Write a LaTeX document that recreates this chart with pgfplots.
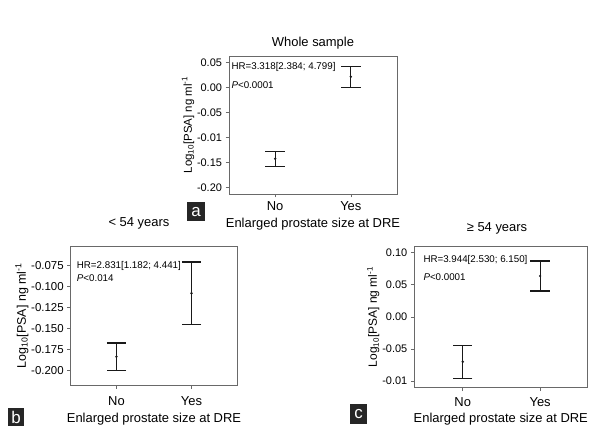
\documentclass[border=0pt]{standalone}
\usepackage{fontspec}
\setmainfont{Liberation Sans}
\usepackage{pgfplots}
\pgfplotsset{compat=1.18}
\definecolor{framegray}{RGB}{105,105,105}
\pgfplotsset{
  panel/.style={
    scale only axis,
    anchor=south west,
    xmin=-0.61, xmax=1.61,
    xtick={0,1}, xticklabels={No,Yes},
    xtick pos=bottom, ytick pos=left,
    tick align=outside,
    major tick length=3.5bp,
    axis line style={framegray, line width=0.9pt},
    every tick/.style={framegray, line width=0.6pt},
    xticklabel style={font=\fontsize{13}{13}\selectfont, yshift=-1bp},
    label style={font=\fontsize{13}{13}\selectfont},
    ylabel={Log\textsubscript{10}[PSA] ng ml\textsuperscript{-1}},
    xlabel={Enlarged prostate size at DRE},
    ylabel style={yshift=-4bp},
    clip=false,
  },
  ebar/.style={
    black!90, line width=1.2pt, mark=*, mark size=0.5pt, only marks,
    error bars/.cd, y dir=both, y explicit,
    error bar style={line width=1.2pt, black!90},
    error mark options={rotate=90, mark size=9.7bp, line width=1.2pt, black!90},
  },
}
\newcommand{\hrtext}{\fontsize{9.8}{10}\selectfont}
\begin{document}
\begin{tikzpicture}
\useasboundingbox (0,0) rectangle (595bp,426bp);

% Panel a
\begin{axis}[panel, at={(229bp,232bp)}, width=168bp, height=138bp,
  ymin=-0.2126, ymax=0.0634,
  yticklabel style={font=\fontsize{11}{11}\selectfont},
  ylabel style={font=\fontsize{11.5}{11.5}\selectfont, yshift=0bp},
  ytick={-0.2,-0.15,-0.1,-0.05,0,0.05},
  yticklabels={-0.20,-0.15,-0.01,-0.05,0.00,0.05}]
\addplot+[ebar] coordinates {
  (0,-0.142) += (0,0.014) -= (0,0.015)
  (1,0.022) += (0,0.0208) -= (0,0.0212)
};
\node[anchor=west, inner sep=0, font=\hrtext] at (rel axis cs:0.014,0.92) {HR=3.318[2.384; 4.799]};
\node[anchor=west, inner sep=0, font=\hrtext] at (rel axis cs:0.014,0.786) {\textit{P}<0.0001};
\end{axis}

% Panel b
\begin{axis}[panel, at={(70.7bp,41bp)}, width=166.6bp, height=138.7bp,
  ymin=-0.2176, ymax=-0.0518,
  yticklabel style={font=\fontsize{11.5}{11.5}\selectfont},
  ylabel style={font=\fontsize{12.5}{12.5}\selectfont},
  xticklabel style={yshift=-4bp},
  ytick={-0.2,-0.175,-0.15,-0.125,-0.1,-0.075},
  yticklabels={-0.200,-0.175,-0.150,-0.125,-0.100,-0.075}]
\addplot+[ebar] coordinates {
  (0,-0.1837) += (0,0.0163) -= (0,0.0168)
  (1,-0.108) += (0,0.0374) -= (0,0.0375)
};
\node[anchor=west, inner sep=0, font=\hrtext] at (rel axis cs:0.036,0.86) {HR=2.831[1.182; 4.441]};
\node[anchor=west, inner sep=0, font=\hrtext] at (rel axis cs:0.036,0.77) {\textit{P}<0.014};
\end{axis}

% Panel c
\begin{axis}[panel, at={(414.3bp,38.3bp)}, width=173bp, height=141.4bp,
  xmin=-0.626, xmax=1.61,
  ymin=-0.1104, ymax=0.11,
  yticklabel style={font=\fontsize{11}{11}\selectfont},
  ylabel style={font=\fontsize{12}{12}\selectfont},
  xticklabel style={yshift=-1.5bp},
  xlabel style={yshift=-0.5bp},
  ytick={-0.1,-0.05,0,0.05,0.1},
  yticklabels={-0.01,-0.05,0.00,0.05,0.10}]
\addplot+[ebar] coordinates {
  (0,-0.070) += (0,0.0248) -= (0,0.0261)
  (1,0.0637) += (0,0.0234) -= (0,0.0233)
};
\node[anchor=west, inner sep=0, font=\hrtext] at (rel axis cs:0.052,0.903) {HR=3.944[2.530; 6.150]};
\node[anchor=west, inner sep=0, font=\hrtext] at (rel axis cs:0.052,0.78) {\textit{P}<0.0001};
\end{axis}

% Titles
\node[font=\fontsize{13}{13}\selectfont] at (313bp,383bp) {Whole sample};
\node[font=\fontsize{13}{13}\selectfont] at (139bp,203bp) {< 54 years};
\node[font=\fontsize{13}{13}\selectfont] at (497bp,198bp) {≥ 54 years};

% Panel letters
\node[fill=black!85, text=white, minimum width=18bp, minimum height=19bp, inner sep=0, font=\fontsize{17}{17}\selectfont] at (196bp,214bp) {a};
\node[fill=black!85, text=white, minimum width=16bp, minimum height=18bp, inner sep=0, font=\fontsize{17}{17}\selectfont] at (16bp,9bp) {b};
\node[fill=black!85, text=white, minimum width=17bp, minimum height=20bp, inner sep=0, font=\fontsize{17}{17}\selectfont] at (358.5bp,12bp) {c};
\end{tikzpicture}
\end{document}
